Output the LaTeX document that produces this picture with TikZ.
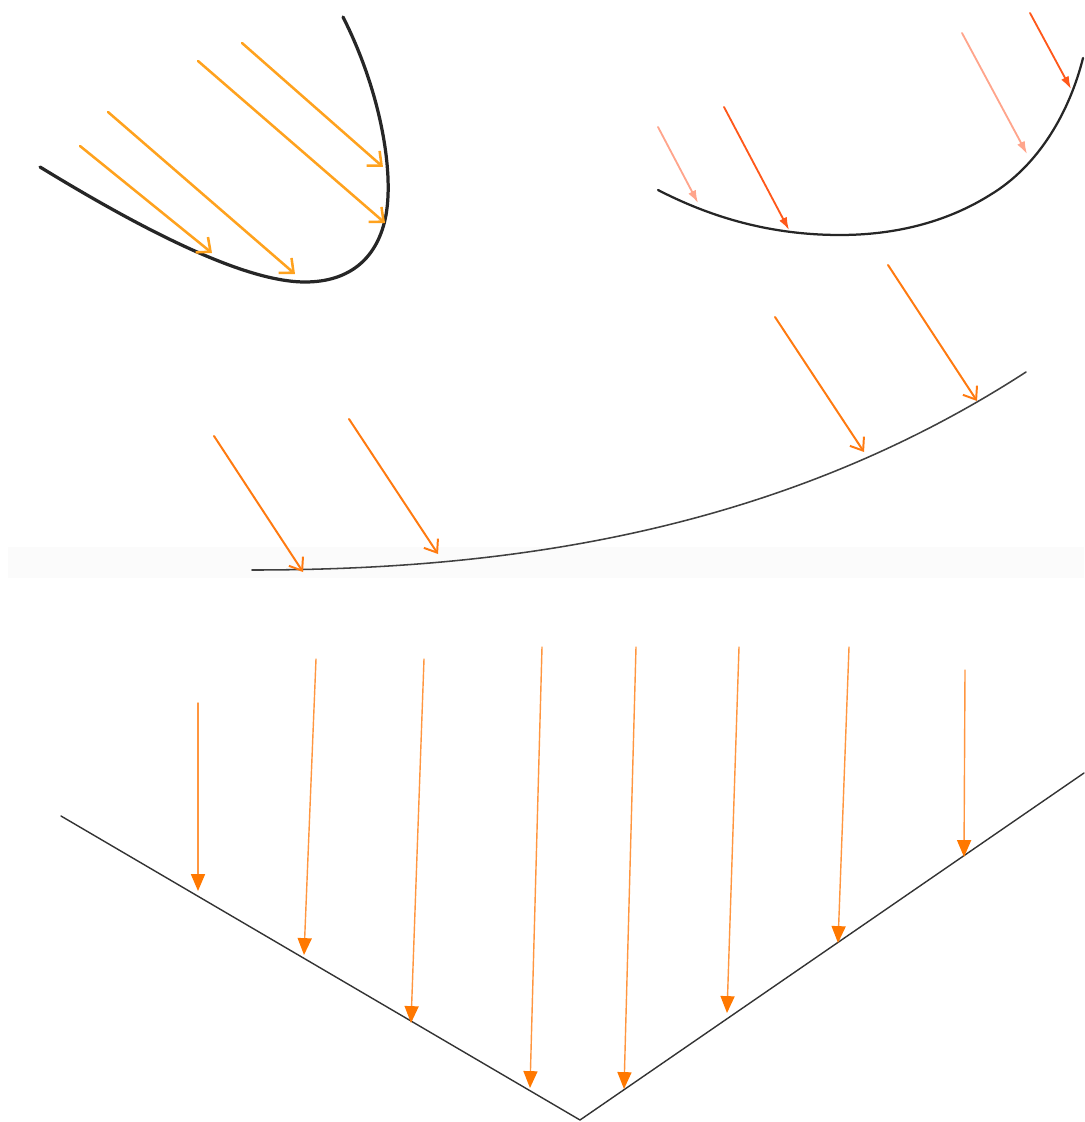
\documentclass[tikz,border=0pt]{standalone}
\usepackage{amsmath}
\usetikzlibrary{calc, arrows.meta}

\definecolor{amber}{RGB}{255,162,30}
\definecolor{redorange}{RGB}{255,88,26}
\definecolor{salmon}{RGB}{255,165,140}
\definecolor{midorange}{RGB}{255,122,16}
\definecolor{rayline}{RGB}{255,150,64}
\definecolor{rayhead}{RGB}{255,120,0}

\begin{document}
\begin{tikzpicture}[x=0.025cm, y=-0.025cm, line cap=round, line join=round]
  \useasboundingbox (0,0) rectangle (1084,1122);
  % faint grey band under the upper half
  \fill[black!1.5] (8,547) rectangle (1084,578);

  % ---- top left: deep dish, open heads
  \draw[black!85, line width=2.3pt] (40,167) .. controls (130,222) and (240,282) .. (305,282)
    .. controls (350,282) and (378,258) .. (386,215)
    .. controls (394,170) and (380,90) .. (343,17);
  \coordinate (A1) at (80,146);  \coordinate (A1t) at (212,253);
  \coordinate (A2) at (108,112); \coordinate (A2t) at (295,274);
  \coordinate (A3) at (198,61);  \coordinate (A3t) at (385,223);
  \coordinate (A4) at (242,43);  \coordinate (A4t) at (383,167);
  \foreach \p in {A1, A2, A3, A4}
    \draw[amber, line width=1.8pt, -{Straight Barb[length=8pt, width=14pt]}] (\p) -- (\p t);

  % ---- top right: shallow dish, small filled heads
  \draw[black!85, line width=1.6pt] (658,190) .. controls (720,222) and (780,235) .. (840,235)
    .. controls (900,235) and (950,220) .. (990,195)
    .. controls (1040,165) and (1070,110) .. (1083,58);
  \coordinate (B1) at (658,127);  \coordinate (B1t) at (698,203);
  \coordinate (B2) at (724,107);  \coordinate (B2t) at (789,230);
  \coordinate (B3) at (962,33);   \coordinate (B3t) at (1027,154);
  \coordinate (B4) at (1030,13);  \coordinate (B4t) at (1071,89);
  \foreach \p/\c in {B1/salmon, B2/redorange, B3/salmon, B4/redorange}
    \draw[\c, line width=1.3pt, -{Latex[length=9pt, width=6pt]}] (\p) -- (\p t);

  % ---- middle: wide flat curve
  \draw[black!75, line width=1.1pt] (252,570) .. controls (502,570) and (776,534) .. (1026,372);
  \coordinate (C1) at (214,436); \coordinate (C1t) at (303,572);
  \coordinate (C2) at (349,419); \coordinate (C2t) at (438,554);
  \coordinate (C3) at (775,317); \coordinate (C3t) at (864,452);
  \coordinate (C4) at (888,265); \coordinate (C4t) at (977,401);
  \foreach \p in {C1, C2, C3, C4}
    \draw[midorange, line width=1.4pt, -{Straight Barb[length=8pt, width=12pt]}] (\p) -- (\p t);

  % ---- bottom: V shaped reflector
  \coordinate (L) at (61,816);
  \coordinate (O) at (580,1120);
  \coordinate (R) at (1084,773);
  \draw[black!80, line width=1pt] (L) -- (O) -- (R);
  \foreach \i/\xa/\ya/\xb/\yb in {1/198/703/198/891, 2/316/659/304/955,
      3/424/659/411/1023, 4/542/647/530/1088, 5/636/647/624/1089,
      6/739/647/727/1013, 7/849/647/838/943, 8/965/670/964/857}
  {
    \coordinate (D\i) at (\xa,\ya);
    \coordinate (D\i t) at (\xb,\yb);
    \draw[rayline, line width=1pt, -{Triangle[length=12pt, width=10pt, rayhead]}] (D\i) -- (D\i t);
  }
\end{tikzpicture}
\end{document}
